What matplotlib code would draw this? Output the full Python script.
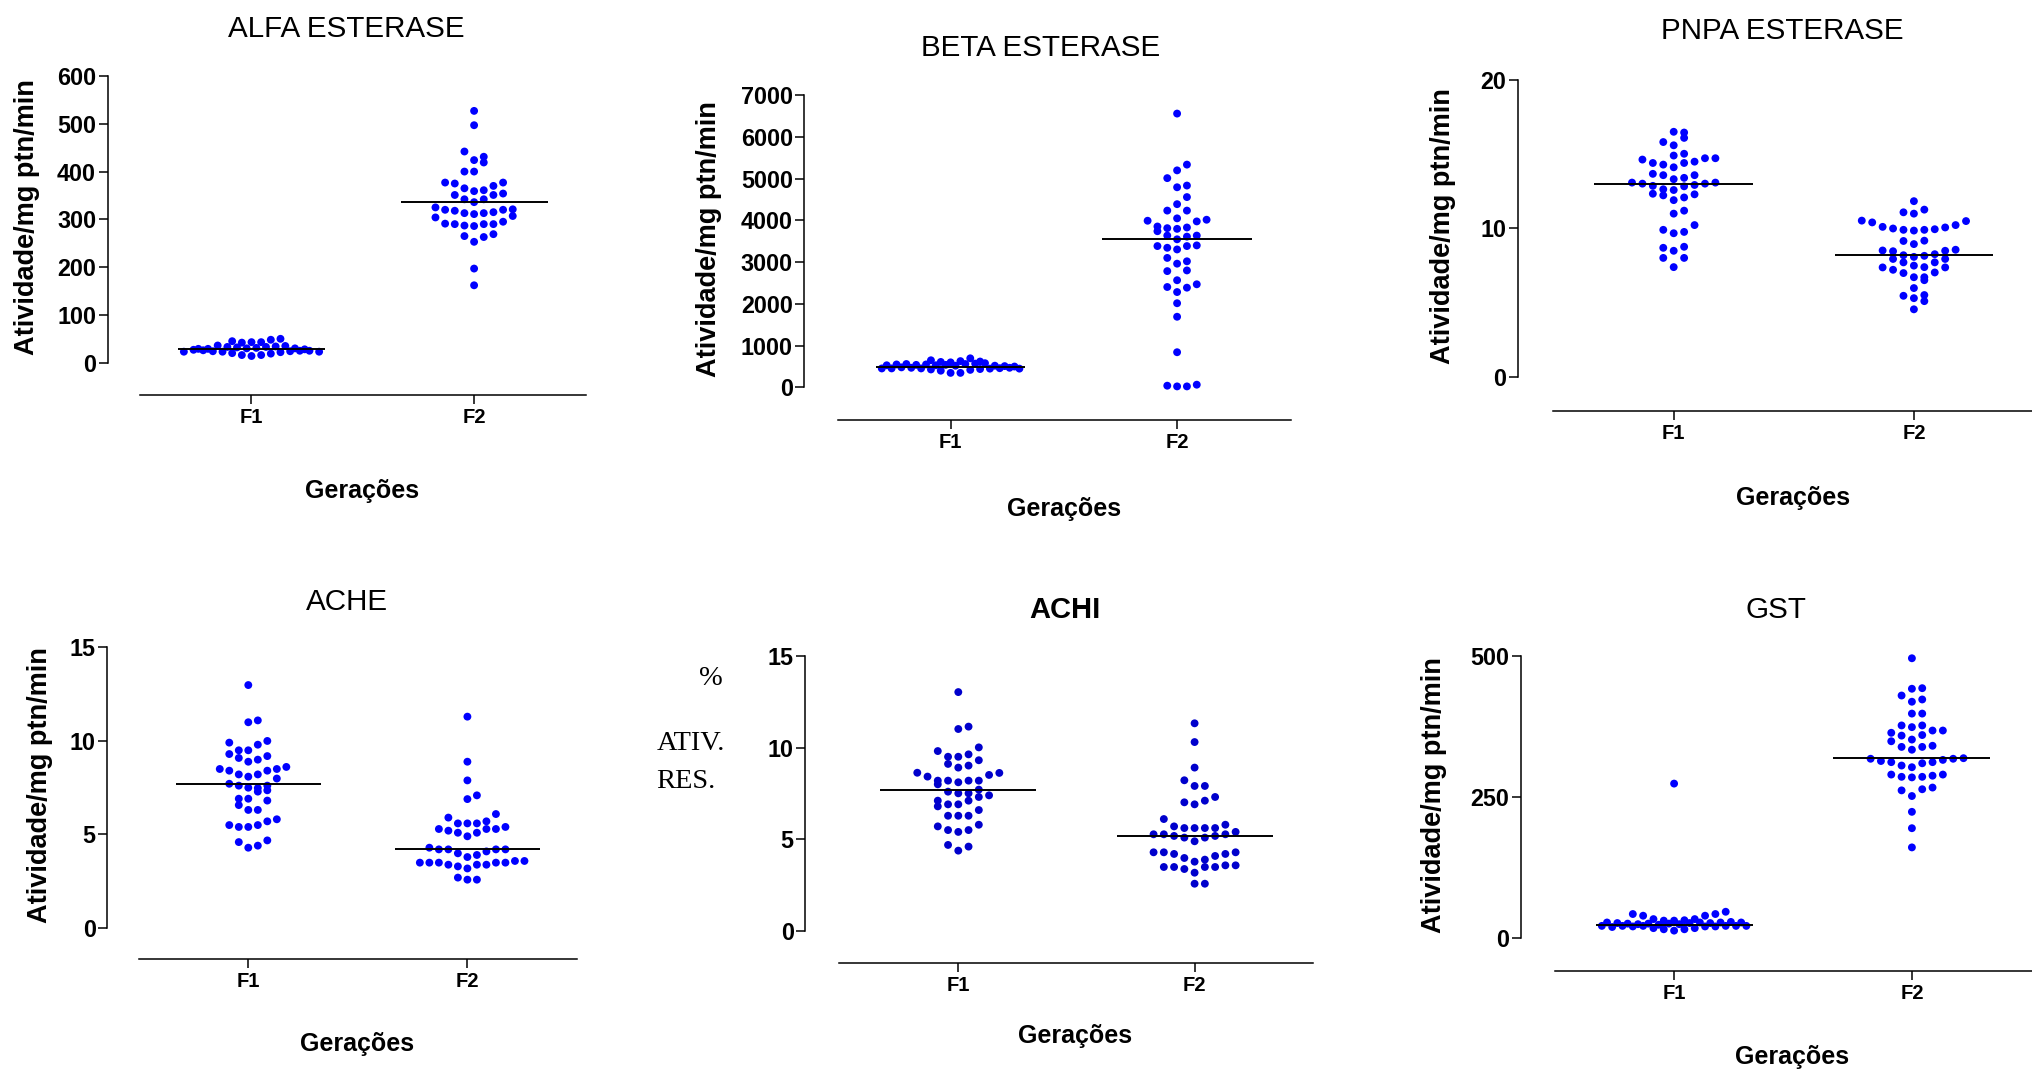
import numpy as np
import matplotlib
matplotlib.use("Agg")
import matplotlib.pyplot as plt

# ---- valores (um ponto por individuo) ----
geracoes = ["F1", "F2"]

alfa_f1 = [14, 16, 16, 19, 20, 22, 23, 24, 24, 25, 26, 25, 27, 23, 23,
           31, 30, 33, 32, 34, 33, 35, 36, 30, 29, 28, 29,
           43, 43, 42, 48, 45, 50]
alfa_f2 = [162, 197, 253, 263, 265, 269, 286, 290, 287, 290, 290, 295, 291, 307, 304,
           311, 313, 313, 315, 318, 320, 320, 321, 325, 336, 342, 342, 351, 351, 354,
           359, 361, 365, 370, 375, 377, 377, 400, 419, 400, 424, 431, 442, 497, 527]
alfa_linha = [27.9, 336]
alfa_ticks = [0, 100, 200, 300, 400, 500, 600]

beta_f1 = [348, 348, 400, 420, 430, 440, 455, 450, 470, 460, 480, 470, 455, 450, 454,
           520, 540, 560, 530, 570, 550, 580, 540, 520, 560, 510, 550, 500, 530,
           600, 630, 610, 697, 650, 620]
beta_f2 = [24, 24, 41, 65, 843, 1693, 2017, 2285, 2390, 2406, 2471, 2568, 2803, 2787,
           2965, 3022, 3103, 3306, 3387, 3346, 3403, 3387, 3549, 3613, 3638, 3638, 3743,
           3800, 3832, 3816, 3978, 3856, 4018, 3994, 4051, 4237, 4237, 4391, 4561,
           4796, 4837, 5015, 5201, 5339, 6562]
beta_linha = [494, 3557]
beta_ticks = [0, 1000, 2000, 3000, 4000, 5000, 6000, 7000]

pnpa_f1 = [7.39, 8.01, 8.01, 8.49, 8.76, 8.69, 9.67, 9.76, 9.90, 10.22, 10.99, 11.19,
           11.90, 12.08, 12.22, 12.29, 12.33, 12.58, 12.83, 12.63, 12.92, 12.86, 13.01,
           13.01, 13.08, 13.08, 13.31, 13.40, 13.58, 13.58, 13.67, 14.11, 14.40, 14.29,
           14.49, 14.40, 14.72, 14.63, 14.72, 14.90, 15.02, 15.59, 16.09, 15.81, 16.50, 16.45]
pnpa_f2 = [4.55, 5.10, 5.30, 5.51, 5.46, 5.98, 6.51, 6.71, 6.71, 6.99, 7.03, 7.21, 7.37,
           7.37, 7.49, 7.39, 7.71, 7.71, 7.94, 7.94, 8.08, 8.15, 8.19, 8.26, 8.46, 8.49,
           8.51, 8.56, 8.94, 9.17, 9.15, 9.85, 9.90, 9.90, 9.94, 9.99, 10.06, 10.10,
           10.22, 10.40, 10.49, 10.52, 10.99, 11.26, 11.08, 11.83]
pnpa_linha = [12.99, 8.21]
pnpa_ticks = [0, 10, 20]

ache_f1 = [4.28, 4.39, 4.58, 4.67, 5.39, 5.49, 5.39, 5.69, 5.49, 5.80, 6.30, 6.30, 6.56,
           6.80, 6.90, 7.28, 6.90, 7.35, 7.49, 7.47, 7.60, 7.60, 7.70, 7.98, 8.08, 8.20,
           8.20, 8.40, 8.40, 8.49, 8.49, 8.60, 8.88, 8.99, 9.08, 9.18, 9.29, 9.49, 9.79,
           9.49, 9.99, 9.90, 10.99, 11.09, 12.98]
ache_f2 = [2.57, 2.57, 2.68, 3.17, 3.37, 3.28, 3.37, 3.37, 3.48, 3.48, 3.48, 3.48, 3.57,
           3.48, 3.57, 3.78, 3.89, 3.98, 4.08, 4.19, 4.19, 4.19, 4.19, 4.28, 4.89, 5.08,
           5.08, 5.28, 5.19, 5.28, 5.28, 5.39, 5.58, 5.58, 5.58, 5.69, 5.89, 6.08, 6.88,
           7.08, 7.88, 8.88, 11.29]
ache_linha = [7.69, 4.19]
ache_ticks = [0, 5, 10, 15]

achi_f1 = [4.39, 4.61, 4.70, 5.41, 5.51, 5.51, 5.80, 5.71, 6.29, 6.29, 6.29, 6.60, 6.80,
           6.91, 7.11, 6.91, 7.31, 7.11, 7.40, 7.51, 7.51, 7.60, 7.71, 8.00, 8.11, 8.20,
           8.20, 8.20, 8.20, 8.51, 8.42, 8.62, 8.63, 8.91, 9.02, 9.11, 9.31, 9.50, 9.63,
           9.50, 10.01, 9.81, 11.01, 11.14, 13.02]
achi_f2 = [2.59, 2.59, 3.19, 3.50, 3.39, 3.50, 3.50, 3.59, 3.50, 3.59, 3.79, 3.90, 3.99,
           4.10, 4.21, 4.21, 4.30, 4.30, 4.30, 4.90, 5.10, 5.10, 5.19, 5.19, 5.28, 5.28,
           5.41, 5.28, 5.62, 5.62, 5.62, 5.62, 5.71, 5.80, 6.11, 6.91, 7.11, 7.02, 7.31,
           7.91, 7.91, 8.22, 8.91, 10.30, 11.32]
achi_linha = [7.71, 5.21]
achi_ticks = [0, 5, 10, 15]

gst_f1 = [13.6, 16, 16, 18, 18, 21, 22, 21, 21, 22, 22, 22, 20, 22, 22,
          25, 26, 27, 24, 28, 26, 27, 25, 28, 26, 29, 27, 28, 28,
          31.3, 32, 31.3, 34, 34, 40, 40, 43, 43, 47, 274]
gst_f2 = [161, 195, 224, 252, 264, 262, 267, 285, 286, 286, 288, 290, 290, 303, 310, 306,
          312, 312, 316, 314, 318, 318, 319, 334, 339, 339, 341, 349, 352, 360, 359, 368,
          364, 368, 374, 377, 377, 398, 398, 419, 423, 430, 442, 443, 496]
gst_linha = [23.6, 319]
gst_ticks = [0, 250, 500]

# ---- aparencia ----
W, H = 2033, 1073
SANS = "Liberation Sans"
SERIF = "Liberation Serif"
SLOT = 0.0434      # distancia horizontal entre pontos (unidades do eixo x)
MEIA = 0.33        # meia largura da linha central

# posicoes em pixels: eixo y, eixo x (inicio, fim), F1, F2, topo, zero, linha do eixo x
paineis = [
    dict(nome="ALFA ESTERASE", g=(alfa_f1, alfa_f2), linha=alfa_linha, ticks=alfa_ticks, w=22,
         px=(107.6, 140.4, 586.0, 251.5, 474.1, 76, 362.7, 395.3),
         tit=(346.4, 36.7), ylab=(27.5, 217.5), ger=(362.4, 498.3)),
    dict(nome="BETA ESTERASE", g=(beta_f1, beta_f2), linha=beta_linha, ticks=beta_ticks, w=240,
         px=(804.5, 837.6, 1291.0, 950.6, 1177.1, 95.3, 387.4, 420.2),
         tit=(1040.8, 55.8), ylab=(709, 239.2), ger=(1064.1, 516.2)),
    dict(nome="PNPA ESTERASE", g=(pnpa_f1, pnpa_f2), linha=pnpa_linha, ticks=pnpa_ticks, w=0.675,
         px=(1517.9, 1552.6, 2033, 1673.7, 1913.9, 79.8, 376.9, 411.4),
         tit=(1782.1, 38.9), ylab=(1442.8, 226), ger=(1793, 505.4)),
    dict(nome="ACHE", g=(ache_f1, ache_f2), linha=ache_linha, ticks=ache_ticks, w=0.55,
         px=(107.2, 139.2, 577.3, 248.3, 467.4, 647.3, 927.7, 959.3),
         tit=(347, 610), ylab=(40.3, 785), ger=(357.5, 1051)),
    dict(nome="ACHI", g=(achi_f1, achi_f2), linha=achi_linha, ticks=achi_ticks, w=0.55,
         px=(805.2, 839.5, 1313, 958.3, 1194.6, 655.7, 931.3, 962.7),
         tit=(1065.2, 618.3), ylab=None, ger=(1075.4, 1043.3), cor="#0000CC", negrito=True),
    dict(nome="GST", g=(gst_f1, gst_f2), linha=gst_linha, ticks=gst_ticks, w=17,
         px=(1520.7, 1555.4, 2033, 1674.1, 1911.9, 656, 938.3, 970.7),
         tit=(1775.5, 617.7), ylab=(1433.7, 795), ger=(1792.2, 1064.3)),
]


def sequencia(n):
    # 0, +1, -1, +2, -2 ... ate 7 de cada lado; depois intercala em meias posicoes
    inteiros = [0] + [s for i in range(1, 8) for s in (i, -i)]
    meios = [s for i in range(7) for s in (i + 0.5, -(i + 0.5))]
    todos = inteiros + meios
    return [todos[i % len(todos)] for i in range(n)]


def espalhar(vals, w):
    # agrupa em faixas de altura w (a partir do menor valor) e espalha na horizontal
    vals = np.asarray(vals, float)
    offs = np.zeros(len(vals))
    usado = np.zeros(len(vals), bool)
    for i in np.argsort(vals, kind="stable"):
        if usado[i]:
            continue
        membros = [j for j in range(len(vals)) if not usado[j] and vals[j] <= vals[i] + w + 1e-9]
        for j, s in zip(membros, sequencia(len(membros))):
            offs[j] = s
            usado[j] = True
    return offs


fig = plt.figure(figsize=(W / 100, H / 100), dpi=100)

for p in paineis:
    yx, xl, xr, f1, f2, ytop_px, y0_px, xax_y = p["px"]
    ytop = p["ticks"][-1]
    esp = f2 - f1

    def xd(v):
        return 1 + (v - f1) / esp

    ppu = (y0_px - ytop_px) / ytop
    ax = fig.add_axes([yx / W, 1 - xax_y / H, (xr - yx) / W, (xax_y - ytop_px) / H])
    ax.set_xlim(xd(yx), xd(xr))
    ax.set_ylim(-(xax_y - y0_px) / ppu, ytop)
    ax.patch.set_visible(False)

    cor = p.get("cor", "#0000FF")
    for k, vals in enumerate(p["g"]):
        pos = k + 1
        x = pos + espalhar(vals, p["w"]) * SLOT
        ax.scatter(x, vals, s=32, color=cor, edgecolors="none", zorder=2, clip_on=False)
        ax.plot([pos - MEIA, pos + MEIA], [p["linha"][k]] * 2, color="black", lw=1.4,
                zorder=3, solid_capstyle="butt")

    for lado in ("top", "right"):
        ax.spines[lado].set_visible(False)
    ax.spines["left"].set_bounds(0, ytop)
    ax.spines["bottom"].set_bounds(xd(xl), xd(xr))
    for lado in ("left", "bottom"):
        ax.spines[lado].set_linewidth(1.1)

    ax.set_yticks(p["ticks"])
    ax.set_xticks([1, 2])
    ax.set_xticklabels(geracoes)
    ax.tick_params(axis="y", length=6.3, width=1.1, pad=2)
    ax.tick_params(axis="x", length=6.3, width=1.1, pad=3)
    for t in ax.get_yticklabels():
        t.set_fontfamily(SANS)
        t.set_fontweight("bold")
        t.set_fontsize(16.8)
    for t in ax.get_xticklabels():
        t.set_fontfamily(SANS)
        t.set_fontweight("bold")
        t.set_fontsize(14.5)

    tx, ty = p["tit"]
    if p.get("negrito"):
        fig.text(tx / W, 1 - ty / H, p["nome"], ha="center", va="baseline",
                 family=SANS, weight="bold", fontsize=21)
    else:
        fig.text(tx / W, 1 - ty / H, p["nome"], ha="center", va="baseline",
                 family=SANS, fontsize=21.3)

    if p["ylab"] is not None:
        lx, ly = p["ylab"]
        fig.text(lx / W, 1 - ly / H, "Atividade/mg ptn/min", ha="center", va="center",
                 rotation=90, family=SANS, weight="bold", fontsize=19.5)

    gx, gy = p["ger"]
    fig.text(gx / W, 1 - gy / H, "Gerações", ha="center", va="baseline",
             family=SANS, weight="bold", fontsize=18)

# rotulo do painel ACHI
fig.text(710.9 / W, 1 - 685 / H, "%", ha="center", va="baseline", family=SERIF, fontsize=20.5)
fig.text(656.5 / W, 1 - 750 / H, "ATIV.", ha="left", va="baseline", family=SERIF, fontsize=20.5)
fig.text(656.5 / W, 1 - 788.3 / H, "RES.", ha="left", va="baseline", family=SERIF, fontsize=20.5)

fig.savefig("out.png", dpi=100)
